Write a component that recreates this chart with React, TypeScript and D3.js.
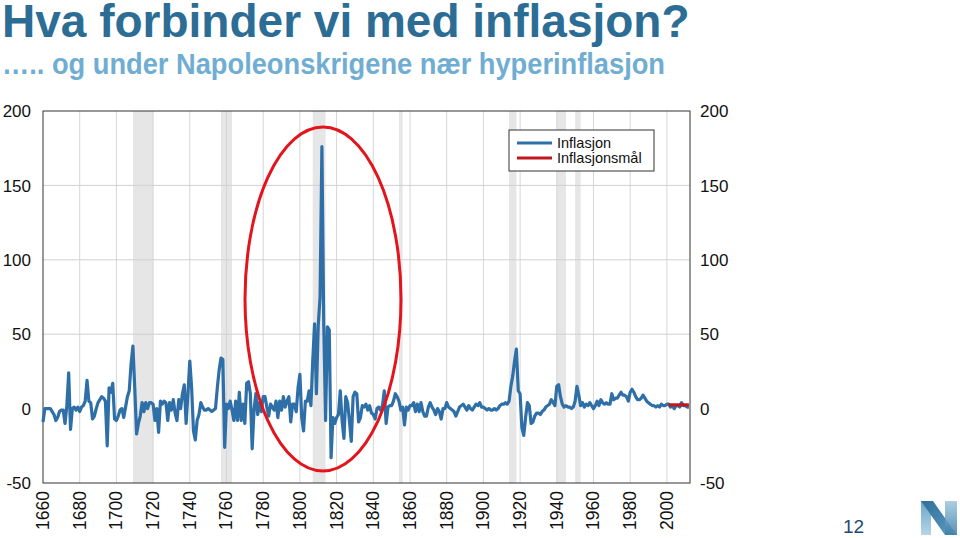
import React from "react";
import * as d3 from "d3";

// ---- Data ----
const startYear = 1660;
// Annual inflation, per cent, 1660–2012
const inflation: number[] = [
  // 1660s
  -9, 0, 0, 0, 0, -2, -4, -8, -6, -2,
  // 1670s
  -1, -1, -10, 2, 24, -14, 0, 1, -1, 1,
  // 1680s
  -2, 1, 2, 5, 19, 5, 4, -7, -5, 0,
  // 1690s
  4, 6, 8, 7, 5, -25, 14, 11, 17, -7,
  // 1700s
  -8, -5, -1, 0, -6, 1, 8, 12, 30, 42,
  // 1710s
  14, -17, -10, -5, 4, -2, 4, 0, 4, 4,
  // 1720s
  3, -8, 0, -16, 5, 3, 5, 4, -8, 4,
  // 1730s
  -1, 6, -3, -8, 6, 0, 10, 16, -10, 10,
  // 1740s
  32, 14, -15, -21, -8, -4, 4, 1, -1, -1,
  // 1750s
  0, -1, -2, -1, 0, 14, 26, 34, 33, -26,
  // 1760s
  3, 0, 5, -1, -8, 5, -8, 11, -8, 3,
  // 1770s
  -10, 17, 18, 10, -27, -1, 10, -4, 4, -2,
  // 1780s
  8, 8, 1, -5, 3, 1, -1, 5, -6, 5,
  // 1790s
  -1, 8, 1, 5, 8, -9, 3, 3, -2, 14,
  // 1800s
  23, -6, -15, 5, 5, 12, 2, 32, 57, 10,
  // 1810s
  56, 75, 176, 57, -8, 55, 53, -33, -6, -10,
  // 1820s
  -6, -4, 12, -8, -20, 8, 4, -8, -22, 8,
  // 1830s
  11, 10, -9, -6, 2, 1, 3, -1, 2, -3,
  // 1840s
  -4, -7, 0, 1, -1, 2, 12, -10, 1, 2,
  // 1850s
  2, 5, 10, 8, 5, -1, 1, -11, 1, -1,
  // 1860s
  2, 2, 4, -2, 3, -2, 4, -2, -5, -5,
  // 1870s
  1, 4, 1, -1, -4, 0, -2, -7, 0, 0,
  // 1880s
  4, 1, 0, -1, -2, -5, -2, 1, 2, 3,
  // 1890s
  1, -1, 2, 0, -1, 1, 3, 2, 4, 1,
  // 1900s
  1, 0, -1, 0, -1, -1, 0, -1, 0, 2,
  // 1910s
  3, 3, 4, 3, 5, 15, 22, 32, 40, 12,
  // 1920s
  10, -13, -18, -6, 4, 2, -10, -9, -5, -3,
  // 1930s
  -3, -4, -2, -1, 1, 2, 3, 6, 4, 2,
  // 1940s
  15, 16, 8, 3, 1, 2, 1, 1, 0, 1,
  // 1950s
  5, 15, 9, 2, 4, 1, 3, 2, 4, 2,
  // 1960s
  0, 2, 5, 2, 6, 4, 3, 4, 3, 3,
  // 1970s
  10, 6, 7, 7, 9, 11, 9, 9, 8, 5,
  // 1980s
  11, 13, 11, 8, 6, 6, 7, 9, 7, 5,
  // 1990s
  4, 3, 2, 2, 1, 2, 1, 3, 2, 2,
  // 2000s
  3, 3, 1, 2, 0, 2, 2, 1, 4, 2,
  // 2010s
  2, 1, 1,
];

const targetYears: number[] = [2001, 2002, 2003, 2004, 2005, 2006, 2007, 2008, 2009, 2010, 2011, 2012];
const targetValues: number[] = [2.5, 2.5, 2.5, 2.5, 2.5, 2.5, 2.5, 2.5, 2.5, 2.5, 2.5, 2.5];

const xTicks: number[] = [1660, 1680, 1700, 1720, 1740, 1760, 1780, 1800, 1820, 1840, 1860, 1880, 1900, 1920, 1940, 1960, 1980, 2000];
const yTicks: number[] = [-50, 0, 50, 100, 150, 200];
const yGrid: number[] = [50, 100, 150];

// War periods (shaded)
const bandStarts: number[] = [1709, 1757, 1807, 1854, 1914, 1940, 1950];
const bandEnds: number[] = [1720, 1763, 1814, 1856, 1918, 1945, 1953];

const title = "Hva forbinder vi med inflasjon?";
const subtitle = "….. og under Napoleonskrigene nær hyperinflasjon";
const legendLabels: string[] = ["Inflasjon", "Inflasjonsmål"];
const pageNumber = "12";

const FONT = "'Liberation Sans', Arial, Helvetica, sans-serif";

export default function App() {
  const W = 960;
  const H = 538;
  const left = 43;
  const right = 690;
  const top = 111;
  const bottom = 483;

  const x = d3.scaleLinear().domain([1660, 2012.6]).range([left, right]);
  const y = d3.scaleLinear().domain([-50, 200]).range([bottom, top]);

  const series = inflation.map((v, i) => ({ year: startYear + i, v }));
  const target = targetYears.map((yr, i) => ({ year: yr, v: targetValues[i] }));

  const line = d3
    .line<{ year: number; v: number }>()
    .x((d) => x(d.year))
    .y((d) => y(d.v));

  const blue = "#2f6fa7";
  const red = "#c0161c";

  return (
    <svg
      width={W}
      height={H}
      style={{ position: "absolute", left: 0, top: 0, background: "#fff" }}
      fontFamily={FONT}
    >
      <rect x={0} y={0} width={W} height={H} fill="#fff" />
      {/* Titles */}
      <text x={2} y={37} fontSize={46} fontWeight="bold" fill="#2c6d96">
        {title}
      </text>
      <text transform="translate(2,74) scale(0.94,1)" fontSize={29} fontWeight="bold" fill="#6fadd3">
        {subtitle}
      </text>

      {/* Bands */}
      {bandStarts.map((s, i) => (
        <rect
          key={"b" + i}
          x={x(s)}
          y={top}
          width={x(bandEnds[i]) - x(s)}
          height={bottom - top}
          fill="#e6e6e6"
        />
      ))}

      {/* Grid */}
      {xTicks.slice(1).map((t) => (
        <line key={"vg" + t} x1={x(t)} x2={x(t)} y1={top} y2={bottom} stroke="#d6d6d6" strokeWidth={1} />
      ))}
      {yGrid.map((t) => (
        <line key={"hg" + t} x1={left} x2={right} y1={y(t)} y2={y(t)} stroke="#d0d0d0" strokeWidth={1} />
      ))}

      {/* Frame */}
      <rect x={left} y={top} width={right - left} height={bottom - top} fill="none" stroke="#333" strokeWidth={1} />

      {/* Series */}
      <path d={line(series) || ""} fill="none" stroke={blue} strokeWidth={3.2} strokeLinejoin="round" />
      <path d={line(target) || ""} fill="none" stroke={red} strokeWidth={3.2} />

      {/* Y axis labels */}
      {yTicks.map((t) => (
        <text key={"yl" + t} x={31} y={y(t)} dy="0.36em" fontSize={17} textAnchor="end" fill="#111">
          {t}
        </text>
      ))}
      {yTicks.map((t) => (
        <text key={"yr" + t} x={700} y={y(t)} dy="0.36em" fontSize={17} textAnchor="start" fill="#111">
          {t}
        </text>
      ))}

      {/* X axis labels */}
      {xTicks.map((t) => (
        <text
          key={"xl" + t}
          transform={`translate(${x(t) + 6},${491}) rotate(-90)`}
          fontSize={17.5}
          textAnchor="end"
          fill="#111"
        >
          {t}
        </text>
      ))}

      {/* Legend */}
      <rect x={509} y={130} width={145} height={41} fill="#fff" stroke="#333" strokeWidth={1} />
      <line x1={517} x2={552} y1={143} y2={143} stroke={blue} strokeWidth={3} />
      <line x1={517} x2={552} y1={158} y2={158} stroke={red} strokeWidth={3} />
      <text x={557} y={148} fontSize={14.5} fill="#111">
        {legendLabels[0]}
      </text>
      <text x={557} y={163} fontSize={14.5} fill="#111">
        {legendLabels[1]}
      </text>

      {/* Highlight ellipse */}
      <ellipse cx={323} cy={299} rx={78} ry={172} fill="none" stroke="#e3141b" strokeWidth={3} />

      {/* Page number */}
      <text x={843} y={533} fontSize={19} fill="#24496f">
        {pageNumber}
      </text>

      {/* Logo */}
      <defs>
        <linearGradient id="lgA" x1="0" y1="0" x2="0" y2="1">
          <stop offset="0" stopColor="#6aa5c8" />
          <stop offset="1" stopColor="#b7d5e6" />
        </linearGradient>
        <linearGradient id="lgB" x1="0" y1="0" x2="1" y2="1">
          <stop offset="0" stopColor="#2f6f98" />
          <stop offset="1" stopColor="#5d9cc3" />
        </linearGradient>
        <linearGradient id="lgC" x1="0" y1="0" x2="0" y2="1">
          <stop offset="0" stopColor="#9cc6de" />
          <stop offset="1" stopColor="#3d7ea8" />
        </linearGradient>
      </defs>
      <polygon points="921,501 931,501 931,535 921,535" fill="url(#lgA)" />
      <polygon points="921,501 933,501 957,535 945,535" fill="url(#lgB)" />
      <polygon points="945,501 957,501 957,535 945,535" fill="url(#lgC)" opacity={0.85} />
    </svg>
  );
}
